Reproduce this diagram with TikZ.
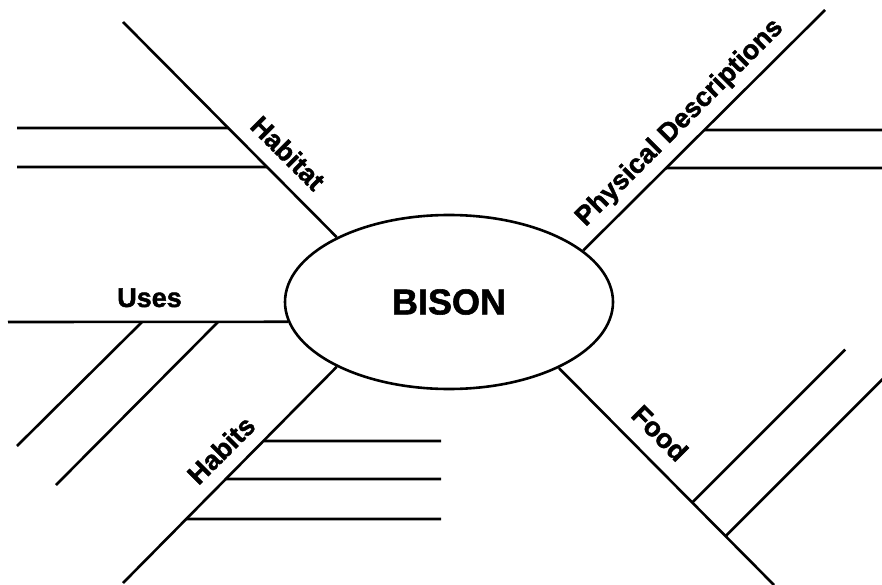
\documentclass[tikz,border=0pt]{standalone}
\usepackage{fontspec}
\setmainfont{Liberation Sans}
% heavier face for the labels
\newfontface\heavyface[FakeBold=1.6]{Liberation Sans Bold}
\usetikzlibrary{shapes.geometric,calc}
\begin{document}
\begin{tikzpicture}[x=1pt,y=-1pt,line width=2.6pt,
  hub/.style={draw,ellipse,minimum width=328pt,minimum height=174pt,inner sep=0pt,
    font=\heavyface\fontsize{36}{36}\selectfont},
  lbl/.style={font=\heavyface\fontsize{27}{27}\selectfont,inner sep=0pt},
  arm/.style={line cap=butt}]
\useasboundingbox (0,0) rectangle (882,585);

% central topic
\node[hub] (bison) at (449,302) {BISON};

% outer ends of the main arms
\coordinate (habE) at (123,22);
\coordinate (phyE) at (825,10);
\coordinate (useE) at (8,322);
\coordinate (hbsE) at (123,583);
\coordinate (fodE) at (774,585);

% main arms
\draw[arm] (bison.150) -- (habE);
\draw[arm] (bison.21) -- (phyE);
\draw[arm] (bison.187) -- (useE);
\draw[arm] (bison.210.5) -- (hbsE);
\draw[arm] (bison.329) -- (fodE);

% Habitat details
\coordinate (hab1) at (intersection of bison.150--habE and 0,128--10,128);
\coordinate (hab2) at (intersection of bison.150--habE and 0,167--10,167);
\coordinate (hab1e) at (17,128);
\coordinate (hab2e) at (17,167);
\draw[arm] (hab1) -- (hab1e);
\draw[arm] (hab2) -- (hab2e);

% Physical Descriptions details
\coordinate (phy1) at (intersection of bison.21--phyE and 0,130--10,130);
\coordinate (phy2) at (intersection of bison.21--phyE and 0,168--10,168);
\coordinate (phy1e) at (882,130);
\coordinate (phy2e) at (882,168);
\draw[arm] (phy1) -- (phy1e);
\draw[arm] (phy2) -- (phy2e);

% Uses details
\coordinate (use1) at (142,322);
\coordinate (use2) at (218,322);
\coordinate (use1e) at (17,446);
\coordinate (use2e) at (56,485);
\draw[arm] (use1) -- (use1e);
\draw[arm] (use2) -- (use2e);

% Habits details
\coordinate (hbs1) at (intersection of bison.210.5--hbsE and 0,441--10,441);
\coordinate (hbs2) at (intersection of bison.210.5--hbsE and 0,479--10,479);
\coordinate (hbs3) at (intersection of bison.210.5--hbsE and 0,519--10,519);
\coordinate (hbs1e) at (441,441);
\coordinate (hbs2e) at (441,479);
\coordinate (hbs3e) at (441,519);
\draw[arm] (hbs1) -- (hbs1e);
\draw[arm] (hbs2) -- (hbs2e);
\draw[arm] (hbs3) -- (hbs3e);

% Food details
\coordinate (fod1) at ($(bison.329)!0.62!(fodE)$);
\coordinate (fod2) at ($(bison.329)!0.775!(fodE)$);
\coordinate (fod1e) at ($(fod1)+(153,-153)$);
\coordinate (fod2e) at ($(fod2)+(158,-158)$);
\draw[arm] (fod1) -- (fod1e);
\draw[arm] (fod2) -- (fod2e);

% arm labels
\node[lbl,rotate=-45] (habL) at (288,153) {Habitat};
\node[lbl,rotate=45] (phyL) at (680,123) {Physical Descriptions};
\node[lbl,anchor=base] (useL) at (149.5,307) {Uses};
\node[lbl,rotate=45] (hbsL) at (221,450) {Habits};
\node[lbl,rotate=-45] (fodL) at (660,433) {Food};
\end{tikzpicture}
\end{document}
